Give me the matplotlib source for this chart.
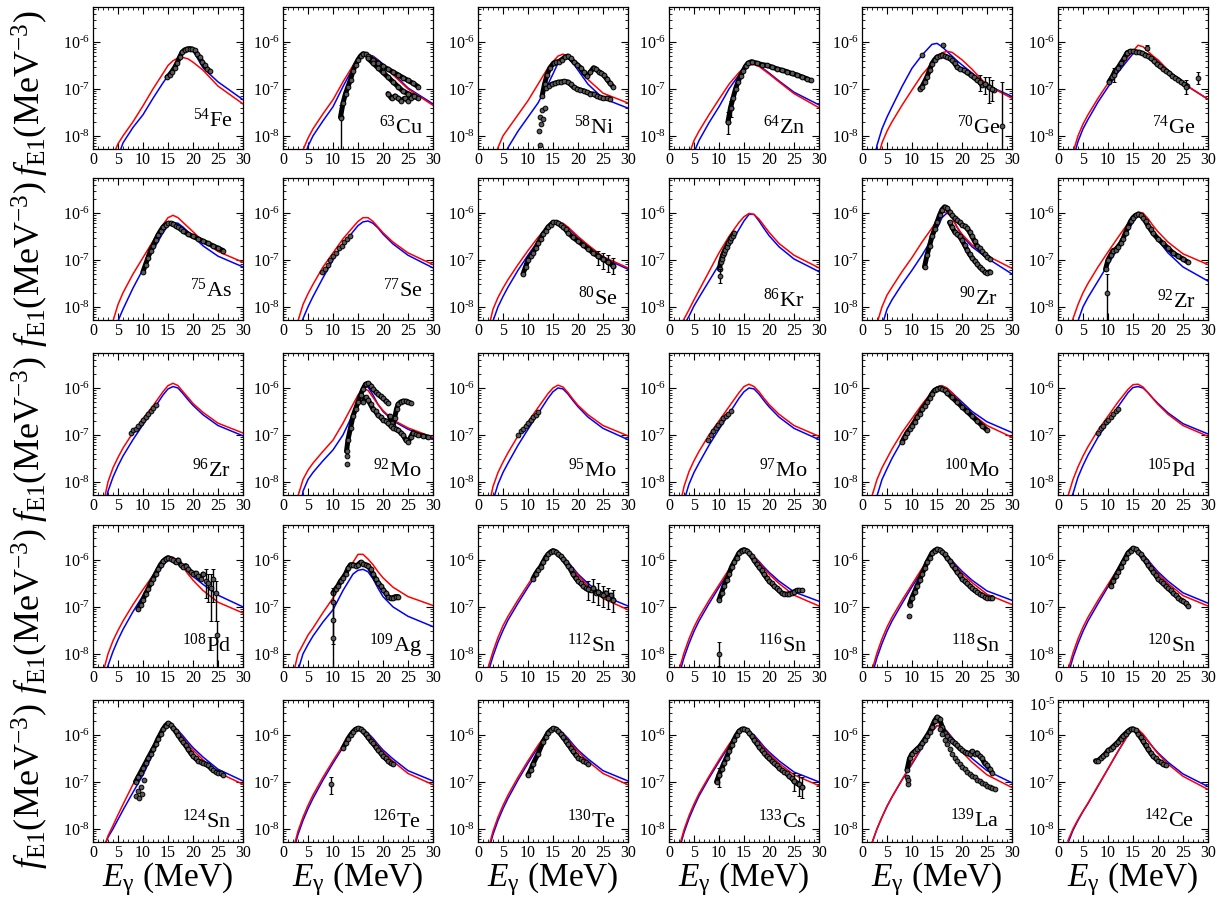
import numpy as np
import matplotlib
matplotlib.use('Agg')
import matplotlib.pyplot as plt
from matplotlib.ticker import MultipleLocator, LogLocator, FuncFormatter, NullFormatter

plt.rcParams['font.family'] = ['Liberation Serif', 'DejaVu Serif']
plt.rcParams['mathtext.fontset'] = 'custom'
plt.rcParams['mathtext.rm'] = 'Liberation Serif'
plt.rcParams['mathtext.it'] = 'Liberation Serif:italic'
plt.rcParams['mathtext.bf'] = 'Liberation Serif:bold'

# ---------------- data (all strength values given as log10 f [MeV^-3]) ----------------
E_curve = [2, 3, 4, 5, 6, 8, 10, 12, 14, 15, 16, 17, 18, 19, 20, 22, 25, 30]

fe54_red = [-9.4, -8.8, -8.42, -8.17, -8.0, -7.7, -7.36, -7.0, -6.67, -6.5, -6.4, -6.34, -6.33, -6.36, -6.43, -6.6, -6.94, -7.32]
fe54_blue = [-10.2, -9.4, -8.85, -8.45, -8.15, -7.82, -7.55, -7.2, -6.87, -6.72, -6.55, -6.4, -6.25, -6.16, -6.18, -6.55, -6.85, -7.23]
fe54_E = [14.8, 15.3, 15.8, 16.3, 16.8, 17.3, 17.8, 18.3, 18.8, 19.3, 19.8, 20.3, 20.8, 21.3, 21.8, 22.3, 22.8, 23.3]
fe54_f = [-6.75, -6.7, -6.63, -6.55, -6.45, -6.33, -6.22, -6.17, -6.15, -6.14, -6.15, -6.18, -6.25, -6.33, -6.42, -6.5, -6.57, -6.62]

cu63_red = [-9.2, -8.7, -8.3, -8.05, -7.85, -7.53, -7.23, -6.85, -6.5, -6.38, -6.3, -6.28, -6.32, -6.4, -6.5, -6.7, -7.0, -7.35]
cu63_blue = [-9.5, -9.0, -8.55, -8.22, -8.0, -7.68, -7.38, -6.95, -6.55, -6.4, -6.3, -6.27, -6.3, -6.38, -6.47, -6.67, -6.98, -7.32]
cu63_E = [11.5, 12, 12.5, 13, 13.5, 14, 14.5, 15, 15.5, 16, 16.5, 17, 18, 19, 20, 21, 22, 23, 24, 25, 26, 27]
cu63_f = [-7.6, -7.3, -7.1, -6.95, -6.8, -6.62, -6.48, -6.38, -6.3, -6.25, -6.26, -6.3, -6.38, -6.45, -6.52, -6.58, -6.64, -6.7, -6.76, -6.82, -6.88, -6.95]
cu63_E2 = [17, 18, 19, 20, 21, 22, 23, 24, 25, 26, 27]
cu63_f2 = [-6.35, -6.45, -6.55, -6.65, -6.75, -6.85, -6.95, -7.05, -7.1, -7.15, -7.2]
cu63_E3 = [21, 21.7, 22.4, 23, 23.6, 24.3, 25, 25.6, 26.2]
cu63_f3 = [-7.1, -7.2, -7.15, -7.2, -7.25, -7.2, -7.25, -7.2, -7.15]
cu63_errE = [11.5]
cu63_errc = [-7.62]
cu63_errlo = [-8.4]
cu63_errhi = [-7.35]

ni58_red = [-9.3, -8.65, -8.25, -8.0, -7.85, -7.55, -7.25, -6.9, -6.55, -6.42, -6.3, -6.26, -6.3, -6.4, -6.53, -6.8, -7.09, -7.3]
ni58_blue = [-10.0, -9.4, -8.9, -8.5, -8.25, -7.9, -7.6, -7.3, -6.9, -6.68, -6.45, -6.32, -6.33, -6.45, -6.6, -6.9, -7.2, -7.41]
ni58_E = [12.8, 13.3, 13.8, 14.4, 15.1, 15.6, 16.1, 16.7, 17.3, 17.9, 18.5, 19.1, 19.8, 20.5, 21.1, 21.8, 22.4, 23.1, 23.6, 24.1, 24.6, 25.1, 25.7, 26.4, 27]
ni58_f = [-7.16, -6.9, -6.7, -6.55, -6.45, -6.43, -6.42, -6.38, -6.33, -6.3, -6.35, -6.42, -6.48, -6.55, -6.65, -6.73, -6.65, -6.55, -6.58, -6.63, -6.66, -6.7, -6.78, -6.88, -6.95]
ni58_E2 = [13.6, 14.2, 14.8, 15.3, 15.9, 16.6, 17.2, 17.9, 18.5, 19.1, 19.8, 20.4, 21.1, 21.7, 22.4, 23.1, 23.7, 24.4, 25, 25.7, 26.4]
ni58_f2 = [-6.98, -6.93, -6.9, -6.88, -6.86, -6.85, -6.84, -6.85, -6.9, -6.96, -7.0, -7.02, -7.04, -7.07, -7.1, -7.11, -7.15, -7.18, -7.2, -7.2, -7.21]
ni58_E3 = [12.1, 12.3, 12.4, 12.6, 12.8, 13.0, 13.3]
ni58_f3 = [-7.9, -8.2, -7.6, -7.75, -7.45, -7.65, -7.4]

zn64_red = [-9.6, -9.0, -8.4, -8.1, -7.9, -7.55, -7.22, -6.9, -6.65, -6.55, -6.49, -6.48, -6.52, -6.6, -6.68, -6.85, -7.1, -7.4]
zn64_blue = [-9.9, -9.3, -8.75, -8.35, -8.1, -7.72, -7.38, -7.0, -6.7, -6.55, -6.47, -6.46, -6.5, -6.58, -6.66, -6.83, -7.07, -7.34]
zn64_E = [11.8, 12.3, 12.8, 13.3, 13.8, 14.3, 14.8, 15.3, 15.8, 16.5, 17.5, 18.5, 19.5, 20.5, 21.5, 22.5, 23.5, 24.5, 25.5, 26.5, 27.5, 28.3]
zn64_f = [-7.7, -7.4, -7.2, -7.0, -6.85, -6.72, -6.62, -6.52, -6.45, -6.42, -6.45, -6.48, -6.5, -6.53, -6.57, -6.6, -6.63, -6.67, -6.7, -6.74, -6.78, -6.82]
zn64_errE = [11.8, 12.3]
zn64_errc = [-7.7, -7.4]
zn64_errlo = [-7.95, -7.6]
zn64_errhi = [-7.5, -7.25]

ge70_red = [-9.2, -8.55, -8.15, -7.9, -7.7, -7.35, -7.02, -6.7, -6.45, -6.33, -6.23, -6.2, -6.22, -6.3, -6.38, -6.58, -6.92, -7.2]
ge70_blue = [-8.75, -8.2, -7.85, -7.6, -7.38, -6.95, -6.56, -6.28, -6.05, -6.03, -6.1, -6.2, -6.3, -6.4, -6.49, -6.66, -6.92, -7.16]
ge70_E = [11.6, 12, 12.5, 13, 13.5, 14, 14.5, 15, 15.5, 16, 16.5, 17, 17.5, 18, 18.5, 19, 19.5, 20.3, 21, 21.7, 22.3, 23, 23.5, 24, 24.5, 25.3, 26, 26.3]
ge70_f = [-7.0, -6.95, -6.85, -6.74, -6.6, -6.46, -6.38, -6.32, -6.3, -6.28, -6.3, -6.32, -6.35, -6.39, -6.45, -6.53, -6.57, -6.6, -6.65, -6.7, -6.75, -6.81, -6.85, -6.92, -6.9, -6.95, -7.0, -7.02]
ge70_E2 = [12.0, 16.1]
ge70_f2 = [-6.28, -6.06]
ge70_errE = [23.5, 24.5, 25.3, 26.0, 28.0]
ge70_errc = [-6.85, -6.9, -6.95, -7.0, -7.8]
ge70_errlo = [-7.05, -7.1, -7.3, -7.25, -8.5]
ge70_errhi = [-6.7, -6.75, -6.75, -6.8, -6.85]

ge74_red = [-8.9, -8.35, -8.0, -7.75, -7.55, -7.2, -6.88, -6.6, -6.32, -6.2, -6.07, -6.1, -6.2, -6.3, -6.38, -6.6, -6.88, -7.22]
ge74_blue = [-9.1, -8.5, -8.12, -7.85, -7.65, -7.28, -6.96, -6.65, -6.38, -6.25, -6.2, -6.22, -6.28, -6.35, -6.42, -6.6, -6.88, -7.22]
ge74_E = [10.2, 10.8, 11.4, 12, 12.6, 13.2, 13.8, 14.4, 15, 15.6, 16.2, 16.8, 17.4, 18, 18.6, 19.2, 19.8, 20.4, 21, 21.6, 22.2, 22.8, 23.4, 24, 24.6, 25.2, 25.8]
ge74_f = [-6.85, -6.75, -6.62, -6.55, -6.45, -6.35, -6.23, -6.2, -6.2, -6.21, -6.22, -6.24, -6.27, -6.3, -6.35, -6.4, -6.47, -6.52, -6.57, -6.62, -6.66, -6.72, -6.76, -6.8, -6.85, -6.9, -6.93]
ge74_errE = [27.9, 25.5, 11.2, 17.7]
ge74_errc = [-6.77, -6.95, -6.7, -6.12]
ge74_errlo = [-6.9, -7.1, -6.85, -6.18]
ge74_errhi = [-6.65, -6.8, -6.55, -6.06]

as75_red = [-9.5, -8.85, -8.3, -7.95, -7.7, -7.3, -6.95, -6.6, -6.25, -6.1, -6.05, -6.1, -6.2, -6.3, -6.4, -6.6, -6.82, -7.05]
as75_blue = [-10.0, -9.3, -8.7, -8.3, -8.05, -7.6, -7.2, -6.8, -6.42, -6.27, -6.2, -6.22, -6.3, -6.4, -6.5, -6.7, -6.92, -7.15]
as75_E = [10, 10.5, 11, 11.5, 12, 12.5, 13, 13.5, 14, 14.5, 15, 15.5, 16, 16.5, 17, 17.5, 18, 19, 20, 21, 22, 23, 24, 25, 26]
as75_f = [-7.25, -7.1, -6.95, -6.8, -6.7, -6.58, -6.47, -6.38, -6.3, -6.25, -6.22, -6.22, -6.24, -6.27, -6.3, -6.34, -6.38, -6.45, -6.5, -6.55, -6.6, -6.65, -6.7, -6.75, -6.8]

se77_red = [-8.9, -8.3, -7.95, -7.72, -7.52, -7.15, -6.85, -6.55, -6.3, -6.18, -6.1, -6.1, -6.18, -6.3, -6.42, -6.62, -6.85, -7.1]
se77_blue = [-9.2, -8.6, -8.25, -8.0, -7.78, -7.38, -7.0, -6.67, -6.4, -6.27, -6.19, -6.17, -6.22, -6.32, -6.45, -6.66, -6.9, -7.17]
se77_E = [7.8, 8.3, 8.9, 9.4, 10, 10.6, 11.2, 11.7, 12.2, 12.8, 13.3]
se77_f = [-7.25, -7.2, -7.1, -7.0, -6.92, -6.85, -6.75, -6.7, -6.62, -6.55, -6.48]

se80_red = [-8.5, -8.05, -7.8, -7.6, -7.42, -7.1, -6.8, -6.52, -6.28, -6.2, -6.18, -6.22, -6.3, -6.4, -6.5, -6.68, -6.93, -7.17]
se80_blue = [-8.7, -8.3, -8.0, -7.78, -7.58, -7.22, -6.9, -6.6, -6.32, -6.23, -6.2, -6.23, -6.32, -6.42, -6.52, -6.7, -6.95, -7.2]
se80_E = [9, 9.5, 10, 10.5, 11, 11.5, 12, 12.5, 13, 13.5, 14, 14.5, 15, 15.5, 16, 16.5, 17, 17.5, 18, 19, 20, 21, 22, 23, 24, 25, 26, 27]
se80_f = [-7.3, -7.15, -7.0, -6.92, -6.85, -6.75, -6.65, -6.55, -6.45, -6.38, -6.3, -6.25, -6.2, -6.2, -6.22, -6.26, -6.3, -6.35, -6.42, -6.52, -6.6, -6.68, -6.76, -6.85, -6.92, -6.98, -7.05, -7.12]
se80_errE = [24, 25, 26, 27]
se80_errc = [-6.92, -6.98, -7.05, -7.12]
se80_errlo = [-7.1, -7.2, -7.25, -7.3]
se80_errhi = [-6.8, -6.85, -6.9, -6.95]

kr86_red = [-8.45, -8.26, -8.06, -7.85, -7.65, -7.25, -6.85, -6.5, -6.2, -6.08, -6.01, -6.03, -6.13, -6.27, -6.41, -6.65, -6.9, -7.17]
kr86_blue = [-8.6, -8.38, -8.2, -7.98, -7.8, -7.45, -7.1, -6.72, -6.35, -6.17, -6.03, -6.03, -6.17, -6.33, -6.48, -6.72, -6.98, -7.25]
kr86_E = [10.1, 10.3, 10.5, 10.7, 10.9, 11.2, 11.5, 11.8, 12.1, 12.4, 12.7, 13]
kr86_f = [-7.2, -7.05, -6.98, -6.9, -6.85, -6.78, -6.72, -6.65, -6.6, -6.53, -6.48, -6.43]
kr86_errE = [10.1]
kr86_errc = [-7.35]
kr86_errlo = [-7.5]
kr86_errhi = [-7.2]

zr90_red = [-9.0, -8.35, -8.0, -7.75, -7.58, -7.25, -6.95, -6.62, -6.32, -6.15, -6.0, -5.98, -6.1, -6.3, -6.45, -6.68, -6.91, -7.18]
zr90_blue = [-9.6, -9.0, -8.4, -8.05, -7.85, -7.52, -7.22, -6.9, -6.55, -6.33, -6.1, -6.0, -6.08, -6.3, -6.48, -6.72, -6.96, -7.3]
zr90_E = [12.5, 13, 13.5, 14, 14.5, 15, 15.5, 16, 16.5, 17, 17.5, 18, 18.5, 19, 19.5, 20, 20.5, 21, 21.5, 22, 22.5, 23, 23.5, 24, 24.5, 25, 25.5]
zr90_f = [-7.15, -6.9, -6.7, -6.5, -6.35, -6.2, -6.05, -5.93, -5.87, -5.9, -5.98, -6.05, -6.1, -6.15, -6.2, -6.25, -6.28, -6.32, -6.4, -6.5, -6.6, -6.7, -6.75, -6.82, -6.88, -6.93, -6.97]
zr90_E2 = [17.5, 18, 18.5, 19, 19.5, 20, 20.5, 21, 21.5, 22, 22.5, 23, 23.5, 24, 24.5, 25, 25.5]
zr90_f2 = [-6.2, -6.3, -6.4, -6.45, -6.5, -6.58, -6.68, -6.78, -6.88, -6.95, -7.02, -7.08, -7.15, -7.2, -7.25, -7.28, -7.25]

zr92_red = [-8.75, -8.25, -7.95, -7.7, -7.5, -7.15, -6.83, -6.52, -6.22, -6.08, -5.98, -6.0, -6.12, -6.27, -6.4, -6.62, -6.87, -7.1]
zr92_blue = [-9.4, -8.8, -8.3, -8.0, -7.8, -7.45, -7.1, -6.75, -6.38, -6.2, -6.05, -6.05, -6.2, -6.4, -6.58, -6.85, -7.15, -7.45]
zr92_E = [9.5, 10, 10.5, 11, 11.5, 12, 12.5, 13, 13.5, 14, 14.5, 15, 15.5, 16, 16.5, 17, 17.5, 18, 18.5, 19, 20, 21, 22, 23, 24, 25, 26]
zr92_f = [-7.2, -7.0, -6.9, -6.8, -6.78, -6.72, -6.65, -6.55, -6.42, -6.3, -6.18, -6.1, -6.05, -6.03, -6.05, -6.1, -6.18, -6.27, -6.35, -6.43, -6.55, -6.65, -6.75, -6.85, -6.92, -6.98, -7.05]
zr92_errE = [9.7]
zr92_errc = [-7.7]
zr92_errlo = [-8.5]
zr92_errhi = [-7.3]

zr96_red = [-8.5, -8.0, -7.7, -7.48, -7.28, -6.95, -6.65, -6.38, -6.08, -5.95, -5.9, -5.95, -6.08, -6.2, -6.33, -6.52, -6.75, -6.96]
zr96_blue = [-8.7, -8.2, -7.9, -7.66, -7.45, -7.1, -6.78, -6.47, -6.15, -6.02, -5.97, -6.0, -6.12, -6.25, -6.37, -6.57, -6.8, -7.02]
zr96_E = [7.5, 8, 8.5, 9, 9.5, 10, 10.5, 11, 11.5, 12, 12.5]
zr96_f = [-6.95, -6.9, -6.88, -6.8, -6.75, -6.68, -6.62, -6.55, -6.5, -6.42, -6.36]

mo92_red = [-9.1, -8.3, -7.95, -7.75, -7.6, -7.35, -7.11, -6.75, -6.35, -6.15, -6.02, -6.05, -6.2, -6.35, -6.48, -6.68, -6.85, -7.05]
mo92_blue = [-9.6, -8.9, -8.2, -7.95, -7.8, -7.55, -7.32, -7.0, -6.55, -6.25, -5.98, -5.98, -6.15, -6.35, -6.5, -6.7, -6.88, -7.08]
mo92_E = [12.7, 13, 13.5, 14, 14.5, 15, 15.5, 16, 16.5, 17, 17.5, 18, 18.5, 19, 19.5, 20, 20.5, 21]
mo92_f = [-7.35, -7.1, -6.85, -6.6, -6.45, -6.3, -6.15, -6.02, -5.92, -5.9, -5.95, -6.02, -6.08, -6.13, -6.18, -6.22, -6.27, -6.32]
mo92_E2 = [21.3, 21.7, 22, 22.3, 22.7, 23, 23.5, 24, 24.5, 25, 25.5]
mo92_f2 = [-6.6, -6.75, -6.8, -6.65, -6.45, -6.35, -6.3, -6.28, -6.28, -6.3, -6.32]
mo92_E3 = [16, 16.5, 17, 17.5, 18, 18.5, 19, 19.5, 20, 20.5, 21, 21.5, 22, 22.5, 23, 23.5, 24, 24.5, 25, 25.5, 26, 26.5, 27, 28, 29]
mo92_f3 = [-6.3, -6.2, -6.25, -6.35, -6.45, -6.5, -6.58, -6.62, -6.68, -6.7, -6.75, -6.8, -6.85, -6.87, -6.9, -6.95, -7.0, -7.1, -7.15, -7.05, -6.95, -6.98, -7.0, -7.02, -7.05]
mo92_E4 = [12.7, 12.8]
mo92_f4 = [-7.45, -7.62]

mo95_red = [-8.6, -8.1, -7.8, -7.58, -7.38, -7.02, -6.72, -6.42, -6.12, -6.0, -5.94, -5.98, -6.1, -6.24, -6.37, -6.57, -6.8, -7.02]
mo95_blue = [-8.9, -8.4, -8.05, -7.8, -7.6, -7.22, -6.88, -6.55, -6.22, -6.08, -6.0, -6.02, -6.13, -6.27, -6.4, -6.62, -6.86, -7.1]
mo95_E = [8, 8.5, 9, 9.5, 10, 10.5, 11, 11.5, 12]
mo95_f = [-7.0, -6.92, -6.88, -6.8, -6.75, -6.68, -6.62, -6.57, -6.52]

mo97_red = [-8.6, -8.1, -7.78, -7.55, -7.35, -7.0, -6.7, -6.4, -6.1, -5.97, -5.92, -5.97, -6.08, -6.22, -6.35, -6.56, -6.8, -7.03]
mo97_blue = [-8.9, -8.4, -8.05, -7.8, -7.6, -7.22, -6.88, -6.55, -6.22, -6.08, -6.0, -6.02, -6.13, -6.27, -6.4, -6.62, -6.86, -7.1]
mo97_E = [7.8, 8.3, 8.8, 9.3, 9.8, 10.3, 10.8, 11.3, 11.8, 12.3]
mo97_f = [-7.1, -7.0, -6.92, -6.85, -6.78, -6.72, -6.65, -6.6, -6.55, -6.5]

mo100_red = [-8.3, -7.95, -7.7, -7.5, -7.3, -6.95, -6.65, -6.35, -6.08, -5.98, -5.95, -6.0, -6.1, -6.22, -6.35, -6.55, -6.8, -7.05]
mo100_blue = [-8.6, -8.3, -7.95, -7.72, -7.5, -7.12, -6.78, -6.45, -6.13, -6.02, -5.98, -6.02, -6.1, -6.2, -6.3, -6.5, -6.72, -6.95]
mo100_E = [8, 8.5, 9, 9.5, 10, 10.5, 11, 11.5, 12, 12.5, 13, 13.5, 14, 14.5, 15, 15.5, 16, 16.5, 17, 18, 19, 20, 21, 22, 23, 24, 25]
mo100_f = [-7.15, -7.05, -6.95, -6.88, -6.8, -6.72, -6.62, -6.55, -6.45, -6.38, -6.3, -6.22, -6.12, -6.05, -6.02, -6.0, -6.02, -6.05, -6.1, -6.2, -6.3, -6.4, -6.5, -6.6, -6.7, -6.8, -6.9]

pd105_red = [-8.3, -7.95, -7.68, -7.45, -7.25, -6.9, -6.6, -6.3, -6.03, -5.93, -5.92, -5.98, -6.1, -6.23, -6.35, -6.56, -6.8, -7.03]
pd105_blue = [-8.55, -8.25, -7.9, -7.65, -7.43, -7.05, -6.72, -6.4, -6.1, -5.99, -5.97, -6.0, -6.1, -6.22, -6.33, -6.53, -6.76, -6.98]
pd105_E = [8, 8.5, 9, 9.5, 10, 10.5, 11, 11.5, 12]
pd105_f = [-6.95, -6.85, -6.8, -6.72, -6.68, -6.62, -6.55, -6.5, -6.45]

pd108_red = [-8.4, -8.0, -7.72, -7.5, -7.3, -6.95, -6.63, -6.33, -6.05, -5.94, -5.94, -6.02, -6.15, -6.3, -6.43, -6.65, -6.9, -7.13]
pd108_blue = [-8.65, -8.25, -7.95, -7.7, -7.48, -7.1, -6.76, -6.43, -6.12, -6.0, -5.98, -6.02, -6.12, -6.24, -6.35, -6.52, -6.75, -7.0]
pd108_E = [9, 9.5, 10, 10.5, 11, 11.5, 12, 12.5, 13, 13.5, 14, 14.5, 15, 15.5, 16, 16.5, 17, 17.5, 18, 18.5, 19, 19.5, 20, 20.5, 21, 21.5, 22]
pd108_f = [-7.05, -6.95, -6.85, -6.72, -6.62, -6.5, -6.4, -6.3, -6.2, -6.1, -6.03, -5.98, -5.95, -5.97, -6.0, -6.05, -6.0, -6.1, -6.15, -6.12, -6.2, -6.25, -6.3, -6.28, -6.35, -6.4, -6.3]
pd108_errE = [22.5, 23.0, 23.5, 24.0, 24.5, 24.8]
pd108_errc = [-6.45, -6.5, -6.6, -6.4, -6.7, -7.6]
pd108_errlo = [-6.8, -6.9, -7.3, -6.9, -7.3, -8.5]
pd108_errhi = [-6.2, -6.3, -6.3, -6.2, -6.45, -7.3]

ag109_red = [-8.45, -8.0, -7.8, -7.6, -7.45, -7.12, -6.81, -6.45, -6.05, -5.88, -5.88, -5.98, -6.1, -6.25, -6.38, -6.58, -6.78, -6.97]
ag109_blue = [-9.0, -8.35, -8.0, -7.8, -7.62, -7.32, -7.06, -6.65, -6.3, -6.22, -6.2, -6.25, -6.4, -6.6, -6.78, -7.0, -7.2, -7.42]
ag109_E = [10, 10.5, 11, 11.5, 12, 12.5, 13, 13.5, 14, 14.5, 15, 15.5, 16, 16.5, 17, 17.5, 18, 18.5, 19, 19.5, 20, 20.5, 21, 21.5, 22, 22.5, 23]
ag109_f = [-6.7, -6.62, -6.55, -6.45, -6.38, -6.3, -6.18, -6.1, -6.1, -6.12, -6.1, -6.05, -6.08, -6.1, -6.12, -6.2, -6.3, -6.4, -6.48, -6.55, -6.63, -6.7, -6.78, -6.82, -6.8, -6.78, -6.78]
ag109_errE = [9.9, 9.9, 9.9]
ag109_errc = [-6.9, -7.28, -7.66]
ag109_errlo = [-7.3, -7.8, -8.5]
ag109_errhi = [-6.6, -6.9, -7.3]

sn112_red = [-8.3, -7.95, -7.65, -7.4, -7.2, -6.85, -6.52, -6.2, -5.88, -5.8, -5.82, -5.92, -6.05, -6.2, -6.33, -6.55, -6.82, -7.06]
sn112_blue = [-8.4, -8.05, -7.75, -7.5, -7.28, -6.92, -6.58, -6.25, -5.91, -5.82, -5.83, -5.92, -6.04, -6.17, -6.3, -6.5, -6.76, -6.98]
sn112_E = [11, 11.5, 12, 12.5, 13, 13.5, 14, 14.5, 15, 15.5, 16, 16.5, 17, 17.5, 18, 18.5, 19, 19.5, 20, 20.5, 21, 21.5, 22, 22.5, 23, 23.5, 24, 24.5, 25, 25.5, 26, 26.5, 27]
sn112_f = [-6.4, -6.3, -6.22, -6.15, -6.05, -5.95, -5.88, -5.83, -5.8, -5.82, -5.88, -5.92, -5.98, -6.05, -6.12, -6.2, -6.3, -6.38, -6.45, -6.5, -6.55, -6.6, -6.62, -6.65, -6.6, -6.7, -6.68, -6.72, -6.75, -6.7, -6.8, -6.75, -6.85]
sn112_errE = [22, 23, 24, 25, 26, 27]
sn112_errc = [-6.62, -6.6, -6.68, -6.75, -6.8, -6.85]
sn112_errlo = [-6.85, -6.9, -6.95, -7.0, -7.05, -7.1]
sn112_errhi = [-6.45, -6.4, -6.5, -6.55, -6.6, -6.65]

sn116_red = [-8.35, -7.98, -7.68, -7.43, -7.22, -6.86, -6.53, -6.2, -5.86, -5.8, -5.82, -5.92, -6.05, -6.18, -6.3, -6.5, -6.75, -6.98]
sn116_blue = [-8.45, -8.08, -7.78, -7.52, -7.3, -6.93, -6.58, -6.25, -5.89, -5.82, -5.83, -5.92, -6.03, -6.15, -6.26, -6.45, -6.68, -6.88]
sn116_E = [10, 10.5, 11, 11.5, 12, 12.5, 13, 13.5, 14, 14.5, 15, 15.5, 16, 16.5, 17, 17.5, 18, 18.5, 19, 19.5, 20, 20.5, 21, 21.5, 22, 22.5, 23, 23.5, 24, 24.5, 25, 25.5, 26, 26.5]
sn116_f = [-6.85, -6.7, -6.55, -6.42, -6.3, -6.15, -6.05, -5.95, -5.85, -5.8, -5.78, -5.8, -5.85, -5.92, -6.0, -6.08, -6.15, -6.22, -6.3, -6.38, -6.45, -6.5, -6.55, -6.6, -6.65, -6.7, -6.72, -6.73, -6.72, -6.7, -6.68, -6.65, -6.65, -6.65]
sn116_errE = [10.0]
sn116_errc = [-8.0]
sn116_errlo = [-8.25]
sn116_errhi = [-7.75]

sn118_red = [-8.35, -7.98, -7.68, -7.43, -7.22, -6.86, -6.52, -6.18, -5.84, -5.78, -5.8, -5.9, -6.03, -6.16, -6.28, -6.48, -6.73, -6.95]
sn118_blue = [-8.45, -8.08, -7.78, -7.52, -7.3, -6.93, -6.57, -6.23, -5.87, -5.8, -5.81, -5.9, -6.01, -6.13, -6.24, -6.43, -6.66, -6.86]
sn118_E = [9.5, 10, 10.5, 11, 11.5, 12, 12.5, 13, 13.5, 14, 14.5, 15, 15.5, 16, 16.5, 17, 17.5, 18, 18.5, 19, 19.5, 20, 20.5, 21, 21.5, 22, 22.5, 23, 23.5, 24, 24.5, 25, 25.5, 26]
sn118_f = [-6.95, -6.8, -6.68, -6.55, -6.43, -6.3, -6.18, -6.05, -5.95, -5.85, -5.8, -5.77, -5.78, -5.82, -5.88, -5.95, -6.02, -6.1, -6.18, -6.25, -6.32, -6.4, -6.45, -6.5, -6.55, -6.6, -6.65, -6.68, -6.72, -6.75, -6.78, -6.8, -6.82, -6.8]
sn118_E2 = [9.3]
sn118_f2 = [-7.2]

sn120_red = [-8.35, -7.98, -7.68, -7.43, -7.22, -6.86, -6.52, -6.18, -5.83, -5.76, -5.78, -5.88, -6.02, -6.16, -6.29, -6.5, -6.76, -6.98]
sn120_blue = [-8.45, -8.08, -7.78, -7.52, -7.3, -6.93, -6.57, -6.22, -5.86, -5.78, -5.79, -5.88, -6.0, -6.13, -6.25, -6.45, -6.7, -6.92]
sn120_E = [10.5, 11, 11.5, 12, 12.5, 13, 13.5, 14, 14.5, 15, 15.5, 16, 16.5, 17, 17.5, 18, 18.5, 19, 19.5, 20, 20.5, 21, 21.5, 22, 22.5, 23, 23.5, 24, 24.5, 25, 25.5, 26]
sn120_f = [-6.55, -6.45, -6.35, -6.25, -6.15, -6.05, -5.95, -5.85, -5.8, -5.75, -5.77, -5.82, -5.88, -5.95, -6.02, -6.1, -6.18, -6.25, -6.32, -6.4, -6.45, -6.5, -6.55, -6.6, -6.65, -6.7, -6.75, -6.8, -6.85, -6.88, -6.92, -6.98]

sn124_red = [-8.45, -8.15, -7.93, -7.7, -7.48, -7.05, -6.72, -6.32, -5.88, -5.77, -5.8, -5.92, -6.06, -6.2, -6.32, -6.53, -6.8, -7.05]
sn124_blue = [-8.45, -8.18, -8.0, -7.8, -7.6, -7.22, -6.85, -6.4, -5.92, -5.78, -5.8, -5.9, -6.02, -6.15, -6.27, -6.47, -6.73, -6.98]
sn124_E = [8.5, 9, 9.5, 10, 10.5, 11, 11.5, 12, 12.5, 13, 13.5, 14, 14.5, 15, 15.5, 16, 16.5, 17, 17.5, 18, 18.5, 19, 19.5, 20, 20.5, 21, 21.5, 22, 22.5, 23, 23.5, 24, 24.5, 25, 25.5, 26]
sn124_f = [-7.0, -6.9, -6.8, -6.7, -6.6, -6.5, -6.4, -6.3, -6.2, -6.08, -5.98, -5.88, -5.8, -5.75, -5.78, -5.85, -5.92, -6.0, -6.08, -6.15, -6.22, -6.3, -6.38, -6.45, -6.5, -6.55, -6.57, -6.6, -6.62, -6.65, -6.7, -6.75, -6.78, -6.8, -6.82, -6.85]
sn124_E2 = [8.6, 8.9, 9.2, 9.5, 9.8, 10.1]
sn124_f2 = [-7.3, -7.2, -7.35, -7.1, -7.25, -6.95]

te126_red = [-8.45, -8.05, -7.75, -7.5, -7.28, -6.9, -6.55, -6.22, -5.93, -5.85, -5.87, -5.97, -6.1, -6.23, -6.36, -6.56, -6.82, -7.06]
te126_blue = [-8.5, -8.12, -7.82, -7.57, -7.35, -6.96, -6.6, -6.26, -5.96, -5.86, -5.87, -5.96, -6.07, -6.2, -6.32, -6.51, -6.76, -6.98]
te126_E = [12, 12.5, 13, 13.5, 14, 14.5, 15, 15.5, 16, 16.5, 17, 17.5, 18, 18.5, 19, 19.5, 20, 20.5, 21, 21.5, 22]
te126_f = [-6.28, -6.18, -6.08, -6.0, -5.93, -5.88, -5.86, -5.87, -5.92, -5.98, -6.05, -6.12, -6.18, -6.25, -6.32, -6.38, -6.45, -6.5, -6.55, -6.6, -6.62]
te126_errE = [9.5]
te126_errc = [-7.05]
te126_errlo = [-7.25]
te126_errhi = [-6.9]

te130_red = [-8.45, -8.05, -7.75, -7.5, -7.28, -6.9, -6.55, -6.22, -5.93, -5.85, -5.87, -5.97, -6.1, -6.23, -6.36, -6.56, -6.82, -7.06]
te130_blue = [-8.5, -8.12, -7.82, -7.57, -7.35, -6.96, -6.6, -6.26, -5.96, -5.86, -5.87, -5.96, -6.07, -6.2, -6.32, -6.51, -6.76, -6.98]
te130_E = [10, 10.5, 11, 12, 13, 13.5, 14, 14.5, 15, 15.5, 16, 16.5, 17, 17.5, 18, 18.5, 19, 19.5, 20, 20.5, 21, 21.5, 22]
te130_f = [-6.85, -6.75, -6.62, -6.4, -6.15, -6.05, -5.95, -5.9, -5.86, -5.87, -5.92, -5.98, -6.05, -6.12, -6.2, -6.27, -6.35, -6.42, -6.48, -6.52, -6.55, -6.58, -6.62]

cs133_red = [-8.4, -8.02, -7.72, -7.47, -7.25, -6.88, -6.53, -6.2, -5.92, -5.88, -5.92, -6.02, -6.15, -6.28, -6.4, -6.6, -6.85, -7.08]
cs133_blue = [-8.45, -8.08, -7.78, -7.53, -7.3, -6.92, -6.57, -6.23, -5.94, -5.89, -5.92, -6.0, -6.12, -6.25, -6.36, -6.55, -6.79, -7.0]
cs133_E = [9.5, 10, 10.5, 11, 11.5, 12, 12.5, 13, 13.5, 14, 14.5, 15, 15.5, 16, 16.5, 17, 17.5, 18, 18.5, 19, 19.5, 20, 20.5, 21, 21.5, 22, 22.5, 23, 23.5, 24, 24.5, 25, 25.5, 26, 26.5]
cs133_f = [-7.0, -6.85, -6.72, -6.6, -6.48, -6.35, -6.22, -6.1, -6.0, -5.92, -5.88, -5.87, -5.9, -5.95, -6.02, -6.1, -6.18, -6.25, -6.32, -6.38, -6.45, -6.5, -6.55, -6.6, -6.65, -6.7, -6.75, -6.78, -6.82, -6.88, -6.92, -6.98, -7.02, -7.05, -7.1]
cs133_errE = [10, 25, 26, 26.5]
cs133_errc = [-6.85, -6.98, -7.05, -7.1]
cs133_errlo = [-7.1, -7.2, -7.3, -7.35]
cs133_errhi = [-6.7, -6.8, -6.85, -6.9]

la139_red = [-8.3, -8.0, -7.75, -7.52, -7.32, -6.95, -6.6, -6.25, -5.92, -5.8, -5.82, -5.93, -6.07, -6.22, -6.36, -6.58, -6.85, -7.12]
la139_blue = [-8.3, -8.0, -7.75, -7.52, -7.32, -6.96, -6.62, -6.27, -5.93, -5.8, -5.82, -5.92, -6.05, -6.18, -6.3, -6.5, -6.76, -7.02]
la139_E = [9, 9.5, 10, 10.5, 11, 11.5, 12, 12.5, 13, 13.5, 14, 14.5, 15, 15.5, 16, 16.5, 17, 17.5, 18, 18.5, 19, 19.5, 20, 20.5, 21, 21.5, 22, 22.5, 23, 23.5, 24, 24.5, 25, 25.5, 26]
la139_f = [-6.75, -6.5, -6.4, -6.35, -6.3, -6.25, -6.18, -6.1, -6.02, -5.93, -5.82, -5.7, -5.62, -5.65, -5.82, -5.95, -6.02, -6.08, -6.12, -6.18, -6.22, -6.28, -6.32, -6.36, -6.38, -6.4, -6.35, -6.4, -6.38, -6.45, -6.5, -6.6, -6.65, -6.72, -6.8]
la139_E2 = [15.5, 16, 16.5, 17, 17.5, 18, 18.5, 19, 19.5, 20, 20.5, 21, 21.5, 22, 22.5, 23, 23.5, 24, 24.5, 25, 25.5, 26, 26.5]
la139_f2 = [-5.88, -5.98, -6.1, -6.2, -6.3, -6.4, -6.48, -6.55, -6.62, -6.68, -6.73, -6.78, -6.83, -6.87, -6.9, -6.95, -6.98, -7.02, -7.05, -7.08, -7.1, -7.13, -7.16]
la139_E3 = [9.0, 9.1, 9.2]
la139_f3 = [-6.9, -7.05, -6.95]

ce142_red = [-8.25, -8.0, -7.8, -7.62, -7.45, -7.08, -6.72, -6.35, -6.0, -5.88, -5.88, -5.98, -6.12, -6.27, -6.4, -6.62, -6.88, -7.16]
ce142_blue = [-8.3, -8.03, -7.82, -7.63, -7.46, -7.09, -6.72, -6.35, -6.0, -5.88, -5.9, -6.0, -6.13, -6.26, -6.38, -6.58, -6.83, -7.1]
ce142_E = [7.5, 8, 8.5, 9, 9.5, 10, 10.5, 11, 11.5, 12, 12.5, 13, 13.5, 14, 14.5, 15, 15.5, 16, 16.5, 17, 17.5, 18, 18.5, 19, 19.5, 20, 20.5, 21, 21.5]
ce142_f = [-6.55, -6.55, -6.5, -6.45, -6.4, -6.33, -6.3, -6.25, -6.2, -6.15, -6.08, -6.02, -5.97, -5.92, -5.88, -5.87, -5.9, -5.97, -6.05, -6.13, -6.22, -6.3, -6.38, -6.45, -6.5, -6.55, -6.58, -6.62, -6.65]

nuclides = ['$^{54}$Fe', '$^{63}$Cu', '$^{58}$Ni', '$^{64}$Zn', '$^{70}$Ge', '$^{74}$Ge',
            '$^{75}$As', '$^{77}$Se', '$^{80}$Se', '$^{86}$Kr', '$^{90}$Zr', '$^{92}$Zr',
            '$^{96}$Zr', '$^{92}$Mo', '$^{95}$Mo', '$^{97}$Mo', '$^{100}$Mo', '$^{105}$Pd',
            '$^{108}$Pd', '$^{109}$Ag', '$^{112}$Sn', '$^{116}$Sn', '$^{118}$Sn', '$^{120}$Sn',
            '$^{124}$Sn', '$^{126}$Te', '$^{130}$Te', '$^{133}$Cs', '$^{139}$La', '$^{142}$Ce']

red_curves = [fe54_red, cu63_red, ni58_red, zn64_red, ge70_red, ge74_red,
              as75_red, se77_red, se80_red, kr86_red, zr90_red, zr92_red,
              zr96_red, mo92_red, mo95_red, mo97_red, mo100_red, pd105_red,
              pd108_red, ag109_red, sn112_red, sn116_red, sn118_red, sn120_red,
              sn124_red, te126_red, te130_red, cs133_red, la139_red, ce142_red]
blue_curves = [fe54_blue, cu63_blue, ni58_blue, zn64_blue, ge70_blue, ge74_blue,
               as75_blue, se77_blue, se80_blue, kr86_blue, zr90_blue, zr92_blue,
               zr96_blue, mo92_blue, mo95_blue, mo97_blue, mo100_blue, pd105_blue,
               pd108_blue, ag109_blue, sn112_blue, sn116_blue, sn118_blue, sn120_blue,
               sn124_blue, te126_blue, te130_blue, cs133_blue, la139_blue, ce142_blue]
# data sets per panel: (E, log10 f, drawn as dense band?)
data_sets = [
    [(fe54_E, fe54_f, True)],
    [(cu63_E, cu63_f, True), (cu63_E2, cu63_f2, True), (cu63_E3, cu63_f3, True)],
    [(ni58_E, ni58_f, True), (ni58_E2, ni58_f2, True), (ni58_E3, ni58_f3, False)],
    [(zn64_E, zn64_f, True)],
    [(ge70_E, ge70_f, True), (ge70_E2, ge70_f2, False)],
    [(ge74_E, ge74_f, True)],
    [(as75_E, as75_f, True)],
    [(se77_E, se77_f, False)],
    [(se80_E, se80_f, True)],
    [(kr86_E, kr86_f, True)],
    [(zr90_E, zr90_f, True), (zr90_E2, zr90_f2, True)],
    [(zr92_E, zr92_f, True)],
    [(zr96_E, zr96_f, False)],
    [(mo92_E, mo92_f, True), (mo92_E2, mo92_f2, True), (mo92_E3, mo92_f3, True), (mo92_E4, mo92_f4, False)],
    [(mo95_E, mo95_f, False)],
    [(mo97_E, mo97_f, False)],
    [(mo100_E, mo100_f, True)],
    [(pd105_E, pd105_f, False)],
    [(pd108_E, pd108_f, True)],
    [(ag109_E, ag109_f, True)],
    [(sn112_E, sn112_f, True)],
    [(sn116_E, sn116_f, True)],
    [(sn118_E, sn118_f, True), (sn118_E2, sn118_f2, False)],
    [(sn120_E, sn120_f, True)],
    [(sn124_E, sn124_f, True), (sn124_E2, sn124_f2, False)],
    [(te126_E, te126_f, True)],
    [(te130_E, te130_f, True)],
    [(cs133_E, cs133_f, True)],
    [(la139_E, la139_f, True), (la139_E2, la139_f2, False), (la139_E3, la139_f3, False)],
    [(ce142_E, ce142_f, True)],
]
err_sets = {
    1: (cu63_errE, cu63_errc, cu63_errlo, cu63_errhi),
    3: (zn64_errE, zn64_errc, zn64_errlo, zn64_errhi),
    4: (ge70_errE, ge70_errc, ge70_errlo, ge70_errhi),
    5: (ge74_errE, ge74_errc, ge74_errlo, ge74_errhi),
    8: (se80_errE, se80_errc, se80_errlo, se80_errhi),
    9: (kr86_errE, kr86_errc, kr86_errlo, kr86_errhi),
    11: (zr92_errE, zr92_errc, zr92_errlo, zr92_errhi),
    18: (pd108_errE, pd108_errc, pd108_errlo, pd108_errhi),
    19: (ag109_errE, ag109_errc, ag109_errlo, ag109_errhi),
    20: (sn112_errE, sn112_errc, sn112_errlo, sn112_errhi),
    21: (sn116_errE, sn116_errc, sn116_errlo, sn116_errhi),
    25: (te126_errE, te126_errc, te126_errlo, te126_errhi),
    27: (cs133_errE, cs133_errc, cs133_errlo, cs133_errhi),
}

# ---------------- layout (pixels of the 1221x906 canvas) ----------------
W, H = 1221, 906
col_left = [93, 283, 478, 669, 862, 1058]
row_top = [7, 178, 353, 525, 700]
ax_w, ax_h = 150, 142
label_xy = [(0.93, 0.155), (0.93, 0.105), (0.905, 0.105), (0.91, 0.105), (0.92, 0.105), (0.913, 0.105),
            (0.93, 0.16), (0.93, 0.16), (0.93, 0.105), (0.906, 0.094), (0.907, 0.105), (0.92, 0.085),
            (0.92, 0.125), (0.925, 0.125), (0.92, 0.125), (0.92, 0.125), (0.92, 0.125), (0.92, 0.125),
            (0.92, 0.105), (0.925, 0.105), (0.92, 0.105), (0.92, 0.105), (0.92, 0.105), (0.92, 0.105),
            (0.92, 0.10), (0.92, 0.10), (0.92, 0.10), (0.92, 0.10), (0.915, 0.104), (0.91, 0.11)]

HYPH = '\u2010'


def decade_label(v, pos):
    # "10" with a short-hyphen exponent, as printed in the original figure
    e = int(round(np.log10(v)))
    if e < 0:
        return r'$10^{%s%d}$' % (HYPH, -e)
    return r'$10^{%d}$' % e


fig = plt.figure(figsize=(W / 100, H / 100), dpi=100)
Ec = np.array(E_curve, dtype=float)
mk = dict(marker='o', ms=3.4, mfc='0.35', mec='black', mew=0.7, ls='none')

for i in range(30):
    r, c = divmod(i, 6)
    ax = fig.add_axes([col_left[c] / W, 1 - (row_top[r] + ax_h) / H, ax_w / W, ax_h / H])
    ax.set_yscale('log')
    ax.plot(Ec, np.power(10.0, blue_curves[i]), color='#0000ff', lw=1.1, zorder=2)
    ax.plot(Ec, np.power(10.0, red_curves[i]), color='#ff0000', lw=1.1, zorder=2)
    for E, lf, band in data_sets[i]:
        y = np.power(10.0, lf)
        if band:
            ax.plot(E, y, color='black', lw=3.6, solid_capstyle='round', zorder=3)
        ax.plot(E, y, zorder=4, **mk)
    if i in err_sets:
        eE, ecn, elo, ehi = err_sets[i]
        yc = np.power(10.0, ecn)
        ylo = np.power(10.0, elo)
        yhi = np.power(10.0, ehi)
        ax.errorbar(eE, yc, yerr=[yc - ylo, yhi - yc], fmt='o', ms=3.4, mfc='0.35', mec='black',
                    mew=0.7, ecolor='black', elinewidth=1.0, capsize=1.2, zorder=4)
    ax.set_xlim(0, 30)
    ax.set_ylim(10 ** -8.28, 10 ** -5.255)
    ax.xaxis.set_major_locator(MultipleLocator(5))
    ax.xaxis.set_minor_locator(MultipleLocator(1))
    ax.yaxis.set_major_locator(LogLocator(base=10, numticks=12))
    ax.yaxis.set_minor_locator(LogLocator(base=10, subs=np.arange(2, 10) * 1.0, numticks=12))
    ax.yaxis.set_major_formatter(FuncFormatter(decade_label))
    ax.yaxis.set_minor_formatter(NullFormatter())
    ax.tick_params(which='both', direction='in', top=True, right=True, labelsize=11.5, pad=2)
    ax.tick_params(which='major', length=5, width=0.8)
    ax.tick_params(which='minor', length=2.5, width=0.6)
    for sp in ax.spines.values():
        sp.set_linewidth(0.9)
    lx, ly = label_xy[i]
    ax.text(lx, ly, nuclides[i], transform=ax.transAxes, ha='right', va='baseline', fontsize=16)
    if i == 29:
        # top label of the last panel's y axis, as printed in the original figure
        ax.text(-0.015, 0.955, decade_label(1e-5, None), transform=ax.transAxes, ha='right',
                va='center', fontsize=11.5)
    if c == 0:
        ax.set_ylabel(r'$f_{\mathrm{E1}}$(MeV$^{-3}$)', fontsize=26)
        ax.yaxis.set_label_coords(-0.28, 0.39)
    if r == 4:
        ax.set_xlabel(r'$E_{\mathrm{\gamma}}$ (MeV)', fontsize=24)
        ax.xaxis.set_label_coords(0.5, -0.13)

fig.savefig('out.png', dpi=100)
